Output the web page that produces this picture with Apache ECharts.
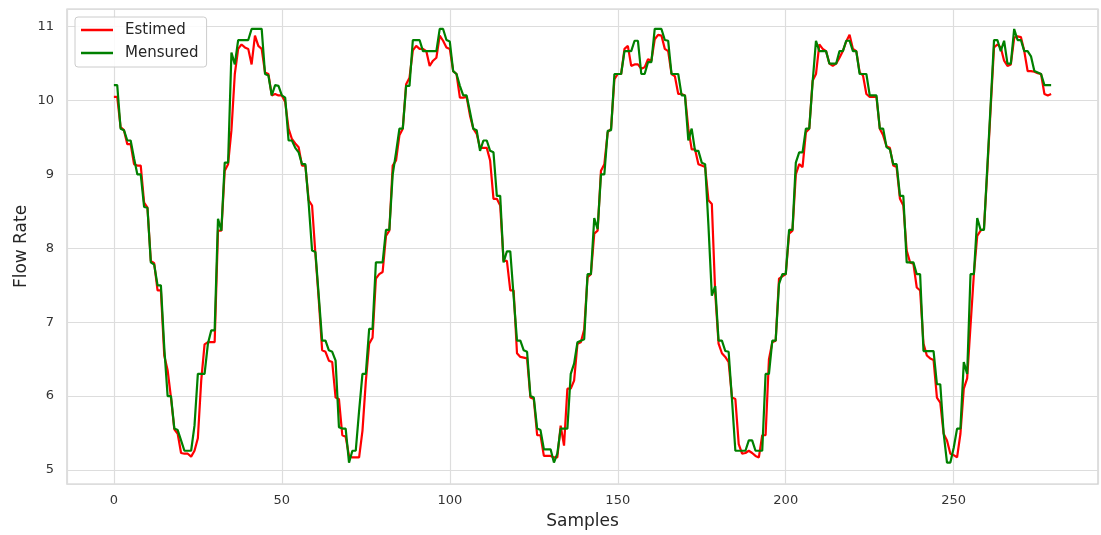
<!DOCTYPE html>
<html>
<head>
<meta charset="utf-8">
<script src="https://cdn.jsdelivr.net/npm/echarts@6/dist/echarts.min.js"></script>
<style>
html,body{margin:0;padding:0;background:#fff;}
#chart{width:1101px;height:535px;}
</style>
</head>
<body>
<div id="chart"></div>
<script>
const seriesNames = ['Estimed', 'Mensured'];
const xTitle = 'Samples';
const yTitle = 'Flow Rate';

const estimed = [
10.05,10.05,9.64,9.60,9.41,9.41,9.14,9.12,9.12,8.62,
8.55,7.83,7.80,7.43,7.43,6.55,6.35,5.98,5.55,5.49,
5.23,5.22,5.22,5.18,5.26,5.43,6.21,6.70,6.73,6.73,
6.73,8.24,8.24,9.05,9.14,9.60,10.36,10.70,10.76,10.72,
10.70,10.49,10.88,10.74,10.70,10.38,10.36,10.07,10.09,10.07,
10.07,9.98,9.62,9.48,9.42,9.37,9.12,9.12,8.65,8.58,
7.92,7.30,6.62,6.60,6.48,6.46,5.98,5.96,5.47,5.45,
5.19,5.17,5.17,5.17,5.53,6.20,6.71,6.79,7.59,7.65,
7.68,8.17,8.24,9.12,9.19,9.53,9.62,10.22,10.31,10.68,
10.74,10.70,10.70,10.67,10.47,10.54,10.58,10.88,10.81,10.72,
10.70,10.40,10.36,10.04,10.04,10.05,9.80,9.62,9.55,9.36,
9.36,9.36,9.19,8.67,8.67,8.58,7.83,7.83,7.43,7.43,
6.58,6.53,6.52,6.51,5.98,5.96,5.47,5.47,5.19,5.19,
5.19,5.17,5.17,5.60,5.33,6.10,6.10,6.21,6.71,6.73,
6.90,7.61,7.65,8.20,8.24,9.05,9.14,9.57,9.62,10.29,
10.36,10.36,10.70,10.74,10.47,10.49,10.49,10.43,10.45,10.56,
10.54,10.83,10.89,10.88,10.70,10.67,10.36,10.33,10.09,10.09,
10.07,9.62,9.34,9.34,9.14,9.12,9.10,8.65,8.60,7.40,
6.71,6.58,6.53,6.46,5.98,5.96,5.35,5.22,5.23,5.26,
5.23,5.19,5.17,5.47,5.47,6.50,6.73,6.75,7.59,7.62,
7.65,8.20,8.24,9.00,9.14,9.10,9.57,9.62,10.27,10.36,
10.76,10.70,10.67,10.50,10.47,10.50,10.58,10.67,10.80,10.89,
10.70,10.67,10.38,10.34,10.09,10.05,10.05,10.05,9.62,9.53,
9.38,9.36,9.12,9.10,8.67,8.58,7.97,7.81,7.79,7.47,
7.43,6.71,6.55,6.51,6.49,5.98,5.91,5.49,5.40,5.22,
5.20,5.17,5.49,6.10,6.24,6.95,7.65,8.17,8.24,8.26,
9.05,9.90,10.72,10.76,10.72,10.54,10.47,10.49,10.85,10.87,
10.86,10.67,10.40,10.40,10.39,10.37,10.36,10.09,10.07,10.09
];

const mensured = [
10.21,10.21,9.62,9.60,9.46,9.46,9.22,9.00,9.00,8.56,
8.55,7.81,7.78,7.50,7.50,6.66,6.00,6.00,5.56,5.54,
5.40,5.26,5.26,5.26,5.60,6.30,6.30,6.30,6.71,6.89,
6.89,8.40,8.24,9.16,9.16,10.65,10.49,10.82,10.82,10.82,
10.82,10.97,10.97,10.97,10.97,10.36,10.34,10.07,10.21,10.20,
10.07,10.04,9.46,9.46,9.36,9.30,9.14,9.14,8.60,7.97,
7.95,7.35,6.75,6.75,6.62,6.60,6.48,5.58,5.56,5.56,
5.10,5.26,5.26,5.80,6.30,6.30,6.91,6.91,7.81,7.81,
7.81,8.25,8.25,9.00,9.30,9.62,9.62,10.20,10.20,10.82,
10.82,10.82,10.67,10.67,10.67,10.67,10.67,10.97,10.97,10.82,
10.80,10.40,10.36,10.20,10.07,10.07,9.85,9.62,9.60,9.32,
9.46,9.46,9.32,9.30,8.71,8.71,7.81,7.96,7.96,7.35,
6.75,6.75,6.62,6.60,6.00,5.98,5.56,5.54,5.28,5.28,
5.28,5.10,5.22,5.56,5.56,5.56,6.30,6.44,6.73,6.75,
6.77,7.65,7.65,8.41,8.26,9.00,9.00,9.59,9.60,10.36,
10.36,10.36,10.67,10.67,10.67,10.81,10.81,10.36,10.36,10.52,
10.52,10.97,10.97,10.97,10.82,10.81,10.36,10.36,10.36,10.07,
10.07,9.46,9.62,9.32,9.32,9.16,9.14,8.30,7.36,7.49,
6.75,6.75,6.61,6.60,5.95,5.26,5.26,5.26,5.26,5.40,
5.40,5.26,5.26,5.26,6.30,6.30,6.75,6.75,7.52,7.65,
7.65,8.25,8.25,9.16,9.30,9.30,9.62,9.62,10.25,10.81,
10.67,10.67,10.67,10.50,10.50,10.50,10.67,10.67,10.81,10.81,
10.67,10.67,10.36,10.36,10.36,10.07,10.07,10.07,9.62,9.62,
9.37,9.34,9.14,9.14,8.71,8.71,7.81,7.81,7.81,7.65,
7.65,6.61,6.61,6.61,6.61,6.16,6.16,5.50,5.10,5.10,
5.30,5.56,5.56,6.46,6.30,7.65,7.65,8.41,8.25,8.25,
9.10,9.95,10.82,10.82,10.67,10.81,10.50,10.50,10.97,10.82,
10.82,10.67,10.67,10.60,10.40,10.38,10.36,10.21,10.21,10.21
];

const samples = estimed.map((_, i) => i);

const FONT = 'DejaVu Sans';
const chart = echarts.init(document.getElementById('chart'), null, {renderer: 'canvas'});
chart.setOption({
  animation: false,
  backgroundColor: '#ffffff',
  textStyle: {fontFamily: FONT},
  grid: {left: 67, right: 3, top: 9, bottom: 49, show: true, borderColor: '#cccccc', borderWidth: 1.25, backgroundColor: '#ffffff'},
  legend: {
    orient: 'vertical', left: 75, top: 17,
    padding: [4, 8, 5, 6], itemGap: 5, itemWidth: 32, itemHeight: 2.5,
    icon: 'rect',
    backgroundColor: 'rgba(255,255,255,0.85)', borderColor: '#cccccc', borderWidth: 1, borderRadius: 3,
    textStyle: {fontFamily: FONT, fontSize: 15, color: '#262626', padding: [0, 0, 0, 7], lineHeight: 18},
    data: seriesNames
  },
  xAxis: {
    type: 'value', min: -13.95, max: 292.95,
    name: xTitle, nameLocation: 'middle', nameGap: 29, nameMoveOverlap: false,
    nameTextStyle: {fontFamily: FONT, fontSize: 17, color: '#262626'},
    axisLine: {show: false}, axisTick: {show: false},
    axisLabel: {showMinLabel: false, showMaxLabel: false, fontFamily: FONT, fontSize: 13, color: '#333333', margin: 10},
    splitLine: {show: true, lineStyle: {color: '#dddddd', width: 1.2}}
  },
  yAxis: {
    type: 'value', min: 4.81, max: 11.24,
    name: yTitle, nameLocation: 'middle', nameGap: 37, nameMoveOverlap: false,
    nameTextStyle: {fontFamily: FONT, fontSize: 17, color: '#262626'},
    axisLine: {show: false}, axisTick: {show: false},
    axisLabel: {showMinLabel: false, showMaxLabel: false, fontFamily: FONT, fontSize: 13, color: '#333333', margin: 13},
    splitLine: {show: true, lineStyle: {color: '#dddddd', width: 1.2}}
  },
  series: [
    {name: seriesNames[0], type: 'line', symbol: 'none', showSymbol: false,
     data: samples.map((x, i) => [x, estimed[i]]),
     lineStyle: {color: '#ff0000', width: 2.2}, itemStyle: {color: '#ff0000'}},
    {name: seriesNames[1], type: 'line', symbol: 'none', showSymbol: false,
     data: samples.map((x, i) => [x, mensured[i]]),
     lineStyle: {color: '#008000', width: 2.2}, itemStyle: {color: '#008000'}}
  ]
});
</script>
</body>
</html>
